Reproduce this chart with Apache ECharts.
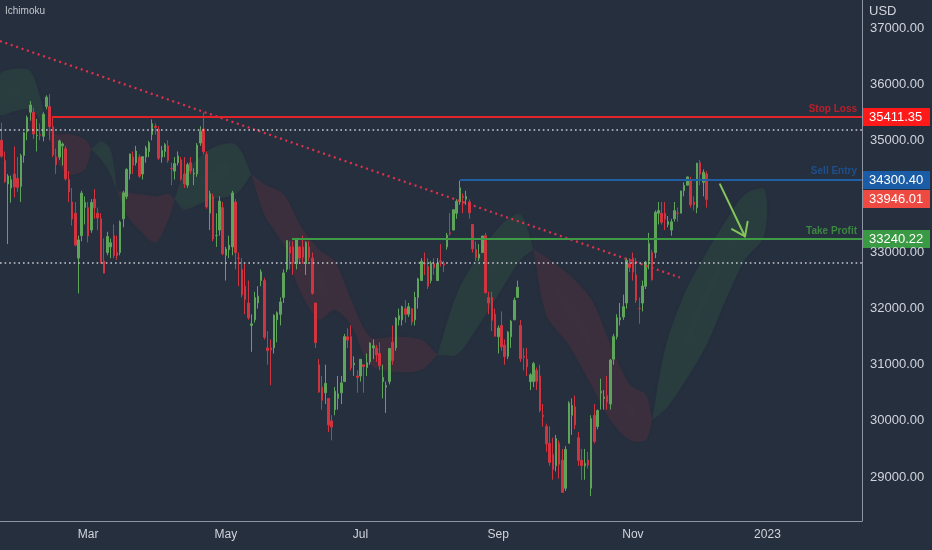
<!DOCTYPE html>
<html>
<head>
<meta charset="utf-8">
<script src="https://cdn.jsdelivr.net/npm/echarts@6/dist/echarts.min.js"></script>
<style>
html,body{margin:0;padding:0;background:#262f3e;}
#c{width:932px;height:550px;}
</style>
</head>
<body>
<div id="c"></div>
<script>
// ---- categories (trading days) ----
const startDate = '2022-01-20';
const totalSlots = 269;
const holidays = ['2022-02-21','2022-04-15','2022-05-30','2022-06-20','2022-07-04','2022-09-05','2022-11-24','2022-12-26','2023-01-02','2023-01-16','2023-02-20'];
const tickDates = ['2022-03-01','2022-05-02','2022-07-01','2022-09-01','2022-11-01','2023-01-03'];
const tickLabels = ['Mar','May','Jul','Sep','Nov','2023'];
const priceTicks = [29000,30000,31000,32000,33000,35000,36000,37000];

// ---- candles [open, close, low, high] ----
const candlesJan = [
[35000,34715,34690,35310],[34640,34265,34240,34800],[34220,34364,33150,34400],[34150,34297,33890,34370],
[34400,34168,33980,34890],[34320,34160,34080,34700],[34180,34725,33900,34760],[34730,35132,34600,35150]];
const candlesFeb = [
[35150,35405,35000,35440],[35500,35629,35350,35700],[35500,35111,35020,35580],[35080,35089,34800,35380],
[35100,35091,35000,35300],[35070,35463,34980,35500],[35600,35768,35550,35800],[35600,35241,35000,35824],
[35240,34738,34700,35400],[34700,34566,34400,34850],[34700,34989,34650,35010],[34900,34934,34550,34960],
[34850,34312,34280,34900],[34300,34079,33900,34450],[33900,33596,33480,34150],[33700,33132,33110,33900],
[32900,33224,32272,33300],[33300,34059,33200,34100],[33800,33893,33500,34000]];
const candlesMar = [
[33800,33295,33180,33900],[33400,33891,33350,33950],[33950,33795,33600,34130],[33700,33615,33400,33800],
[33600,32818,32800,33700],[32850,32632,32630,33250],[33000,33286,32950,33370],[33100,33174,32900,33250],
[33300,32944,32900,33500],[33000,32945,32870,33300],[33000,33545,32950,33570],[33600,34064,33450,34100],
[34000,34481,33950,34500],[34400,34755,34300,34760],[34700,34553,34400,34800],[34600,34808,34550,34900],
[34700,34359,34330,34750],[34400,34708,34300,34720],[34700,34862,34600,34900],[34800,34955,34700,34990],
[35100,35294,35000,35372],[35250,35229,35100,35300],[35200,34678,34650,35250]];
const candlesApr = [
[34700,34818,34600,34900],[34800,34922,34700,34950],[34900,34641,34600,35000],[34500,34497,34200,34600],
[34450,34584,34300,34700],[34600,34721,34550,34800],[34650,34308,34280,34700],[34400,34220,34150,34700],
[34200,34565,34150,34600],[34600,34451,34400,34700],[34400,34412,34200,34500],[34400,34912,34350,34950],
[34950,35160,34900,35250],[35200,34793,34750,35492],[34750,33811,33780,34800],[33700,34049,33400,34100],
[34000,33240,33200,34050],[33300,33301,33100,33700],[33400,33916,33300,34000],[33800,32977,32950,33900]];
const candlesMay = [
[32950,33062,32500,33100],[33050,33129,32900,33300],[33100,34061,32950,34100],[33900,32998,32700,33950],
[32900,32899,32400,33000],[32700,32246,32200,32900],[32400,32161,31900,32800],[32100,31834,31800,32500],
[31700,31730,31230,31900],[31800,32197,31750,32300],[32100,32223,32000,32400],[32500,32655,32400,32700],
[32500,31490,31450,32550],[31300,31253,31000,31600],[31300,31262,30635,31450],[31300,31880,31200,31900],
[31800,31928,31400,31950],[31900,32120,31700,32200],[32200,32637,32100,32700],[32700,33213,32650,33220],
[33100,32990,32700,33200]];
const candlesJun = [
[33100,32813,32600,33200],[32800,33248,32700,33260],[33100,32900,32800,33100],[33100,32916,32800,33300],
[32800,33180,32600,33200],[33100,32910,32850,33200],[32900,32273,32250,33000],[32100,31393,31300,32100],
[31000,30517,30500,31100],[30600,30365,30200,30800],[30500,30669,30300,31000],[30400,29927,29800,30400],
[30000,29889,29653,30100],[30200,30530,30100,30600],[30400,30484,30200,30800],[30500,30677,30300,30800],
[30700,31501,30700,31550],[31500,31439,31300,31650],[31500,30947,30900,31700],[31000,31029,30800,31150],
[30800,30775,30500,30900]];
const candlesJul = [
[30800,31097,30700,31100],[31000,30968,30500,31000],[30950,31037,30800,31200],[31050,31385,31000,31400],
[31300,31338,31100,31450],[31300,31174,31050,31350],[31200,30982,30900,31400],[30700,30773,30400,31000],
[30600,30630,30143,30700],[30700,31289,30650,31300],[31400,31072,31000,31700],[31300,31827,31250,31850],
[31800,31875,31700,32000],[31800,32036,31700,32050],[32000,31899,31750,32150],[31900,32034,31850,32100],
[32000,31762,31700,32000],[31800,32198,31700,32300],[32200,32530,32000,32550],[32500,32845,32500,32900]];
const candlesAug = [
[32800,32798,32600,33000],[32750,32397,32350,32900],[32500,32813,32450,32850],[32800,32727,32600,32900],
[32500,32803,32500,32900],[32850,32833,32750,33150],[32800,32775,32650,32850],[33100,33310,33050,33350],
[33350,33337,33300,33700],[33400,33761,33400,33770],[33700,33913,33600,33950],[33900,34152,33850,34281],
[34000,33981,33700,34050],[33950,33999,33850,34100],[33900,33707,33600,33950],[33500,33064,33000,33500],
[33050,32910,32850,33200],[32900,32970,32850,33150],[33000,33292,33000,33300],[33300,32283,32270,33350],
[32200,32099,31900,32300],[32200,31791,31600,32300],[31900,31510,31500,32000]];
const candlesSep = [
[31500,31656,31200,31700],[31700,31318,31250,31950],[31350,31145,31000,31450],[31150,31581,31100,31600],
[31500,31775,31300,31800],[31800,32152,31800,32200],[32200,32381,32200,32500],[31700,31105,31050,31800],
[31150,31135,30900,31300],[31100,30962,30800,31300],[30700,30822,30550,30850],[30700,31020,30600,31050],
[30900,30706,30550,30950],[30800,30184,30150,31000],[30100,30077,29900,30300],[29900,29590,29450,29950],
[29600,29260,29200,29900],[29400,29135,28950,29700],[29200,29684,29100,29750],[29600,29226,28970,29650],
[29300,28726,28715,29500]];
const candlesOct = [
[28800,29491,28750,29550],[29600,30317,29600,30350],[30100,30274,29750,30400],[30250,29927,29850,30450],
[29700,29297,29200,29800],[29300,29203,28950,29500],[29200,29240,28950,29500],[29300,29211,29150,29450],
[28800,30039,28661,30100],[30100,29635,29600,30300],[29900,30186,29850,30200],[30500,30524,30200,30750],
[30400,30424,30200,30550],[30450,30334,30200,30800],[30300,31083,30200,31100],[31100,31500,31000,31550],
[31500,31837,31450,31900],[31800,31839,31700,32100],[31850,32034,31800,32250],[32100,32861,32000,32900],
[32800,32733,32650,32900]];
const candlesNov = [
[32900,32653,32500,33000],[32600,32148,32100,32900],[32000,31999,31730,32200],[32100,32403,31950,32500],
[32400,32827,32350,32850],[32850,33160,32700,33350],[33000,32514,32500,33050],[33000,33716,32900,33750],
[33700,33748,33500,33900],[33700,33537,33500,33900],[33700,33593,33400,33900],[33500,33554,33450,33650],
[33400,33546,33300,33600],[33600,33746,33550,33900],[33700,33700,33550,33800],[33700,34098,33700,34100],
[34100,34195,34000,34250],[34200,34347,34200,34350],[34300,33850,33800,34350],[33900,33853,33750,34000],
[33800,34590,33700,34600]];
const candlesDec = [
[34600,34395,34200,34650],[34250,34430,34000,34480],[34400,33946,33800,34450]];

// ---- Ichimoku cloud: bar index, upper edge, lower edge, colour of following stretch ----
const cloudIdx = [-0.5,4,9,13,14,17,21,26,28,31,34,36,39,43,48,52,54,57,65,73,78,82,88,93,99,104,109,115,123,131,136,142,148,156,162,166,170,177,184,190,196,201,203,207,213,220,226,232,238];
const cloudTop = [36179,36268,36232,35554,35250,35107,35107,35018,34839,34982,34839,34100,34071,34036,34000,34036,33946,34393,34839,34929,34393,34214,34036,33500,33054,32839,32161,31500,31500,31446,31179,32250,32875,33500,33679,33054,32911,32607,32161,31357,30643,30464,30018,31268,32250,33000,33560,34036,34125];
const cloudBot = [35464,35518,35554,35286,35250,34661,34393,34482,34839,34661,34393,34100,33679,33411,33179,33589,33946,33768,33946,34036,34393,33679,33143,32339,31804,31982,31714,31000,30875,30911,31179,31179,31625,32339,32875,33054,31893,31357,30643,30018,29661,29661,30018,30196,30680,31357,32161,32875,33300];
const cloudSide = ['g','g','g','g','r','r','r','r','g','g','g','r','r','r','r','r','g','g','g','g','r','r','r','r','r','r','r','r','r','r','g','g','g','g','g','r','r','r','r','r','r','r','g','g','g','g','g','g','g'];

// ---- drawn levels and lines ----
const stopLoss = 35411.35, stopLossFrom = 15.7;
const sellEntry = 34300.40, sellEntryFrom = 143.1;
const takeProfit = 33240.22, takeProfitFrom = 90.6;
const lastPrice = 33946.01;
const rangeHigh = 35196, rangeLow = 32821;
const trendStart = [-0.5, 36768], trendEnd = [211.7, 32554];
const arrowStart = [224.2, 34214], arrowEnd = [232.0, 33286];

// ---- build ----
const holidaySet = new Set(holidays);
const dates = [];
let t = Date.parse(startDate + 'T00:00:00Z');
while (dates.length < totalSlots) {
  const dt = new Date(t);
  const wd = dt.getUTCDay();
  const s = dt.toISOString().slice(0, 10);
  if (wd !== 0 && wd !== 6 && !holidaySet.has(s)) dates.push(s);
  t += 86400000;
}
const candles = [].concat(candlesJan, candlesFeb, candlesMar, candlesApr, candlesMay, candlesJun,
  candlesJul, candlesAug, candlesSep, candlesOct, candlesNov, candlesDec);
const tickMap = {};
tickDates.forEach((d, i) => tickMap[d] = tickLabels[i]);

// cloud runs
const runs = [];
let cur = null;
for (let i = 0; i < cloudIdx.length; i++) {
  if (!cur || cloudSide[i] !== cur.side) {
    if (cur) cur.pts.push(i);
    cur = { side: cloudSide[i], pts: [] };
    runs.push(cur);
  }
  cur.pts.push(i);
}

const xMax = totalSlots - 0.5;
const AX = '#d1d4dc';
const FONT = '"Liberation Sans", Arial, sans-serif';

const chart = echarts.init(document.getElementById('c'), null, { renderer: 'canvas' });

function hLine(value, from, color, text, textColor) {
  return [
    { coord: [from, value] , lineStyle: { color: color, width: 2, type: 'solid' },
      label: { show: true, formatter: text, position: 'insideEndTop', color: textColor,
               fontSize: 10, fontWeight: 'bold', fontFamily: FONT, distance: [5, 3] } },
    { coord: [xMax, value] }
  ];
}

const baseGraphic = [
  { id: 'ichi', type: 'text', left: 5, top: 6, style: { text: 'Ichimoku', fill: '#c3c6ce', fontSize: 10, fontFamily: FONT } },
  { id: 'usd', type: 'text', left: 869, top: 5, style: { text: 'USD', fill: AX, fontSize: 13, fontFamily: FONT } }
];

chart.setOption({
  animation: false,
  backgroundColor: '#262f3e',
  grid: { left: 0, right: 70, top: 0, bottom: 29, containLabel: false },
  xAxis: [
    { type: 'category', data: dates, boundaryGap: true,
      axisLine: { show: true, onZero: false, lineStyle: { color: '#8e94a3', width: 1 } },
      axisTick: { show: false }, splitLine: { show: false },
      axisLabel: { color: AX, fontSize: 12, fontFamily: FONT, margin: 8,
        interval: (i, v) => tickMap[v] !== undefined,
        formatter: v => tickMap[v] || '' } },
    { type: 'value', min: -0.5, max: xMax, show: false, position: 'bottom' }
  ],
  yAxis: [{ type: 'value', position: 'right', min: 28216, max: 37499, scale: true,
    axisLine: { show: true, onZero: false, lineStyle: { color: '#8e94a3', width: 1 } },
    axisTick: { show: false }, splitLine: { show: false },
    axisLabel: { color: AX, fontSize: 13, fontFamily: FONT, margin: 8,
      customValues: priceTicks, formatter: v => v.toFixed(2) } }],
  graphic: baseGraphic,
  series: [
    { type: 'custom', name: 'cloud', xAxisIndex: 1, yAxisIndex: 0, z: 1, silent: true,
      data: runs.map(r => [cloudIdx[r.pts[0]], cloudTop[r.pts[0]]]),
      renderItem: function (params, api) {
        const r = runs[params.dataIndex];
        const pts = [];
        r.pts.forEach(i => pts.push(api.coord([cloudIdx[i], cloudTop[i]])));
        r.pts.slice().reverse().forEach(i => pts.push(api.coord([cloudIdx[i], cloudBot[i]])));
        const fill = r.side === 'g' ? 'rgba(76,175,80,0.10)' : 'rgba(242,54,69,0.10)';
        return { type: 'polygon', shape: { points: pts, smooth: 0.3 },
                 style: { fill: fill, shadowBlur: 14, shadowColor: fill } };
      } },
    { type: 'candlestick', name: 'price', xAxisIndex: 0, yAxisIndex: 0, z: 2, barWidth: 2,
      data: candles,
      itemStyle: { color: '#5ea45a', color0: '#d1333f', borderColor: '#5ea45a', borderColor0: '#d1333f', borderWidth: 1 } },
    { type: 'line', name: 'trend', xAxisIndex: 1, yAxisIndex: 0, z: 3, symbol: 'none',
      data: [trendStart, trendEnd],
      lineStyle: { color: '#e2314b', width: 2.2, type: [2, 3.7] },
      markLine: { silent: true, symbol: ['none', 'none'], animation: false,
        data: [
          [ { coord: [-0.5, rangeHigh], lineStyle: { color: '#c9ccd4', width: 1.5, type: [1.6, 3] }, label: { show: false } }, { coord: [xMax, rangeHigh] } ],
          [ { coord: [-0.5, rangeLow], lineStyle: { color: '#c9ccd4', width: 1.5, type: [1.6, 3] }, label: { show: false } }, { coord: [xMax, rangeLow] } ],
          hLine(stopLoss, stopLossFrom, '#e3242b', 'Stop Loss', '#b8202a'),
          hLine(sellEntry, sellEntryFrom, '#1f5fa6', 'Sell Entry', '#1d4f8c'),
          hLine(takeProfit, takeProfitFrom, '#3f9a46', 'Take Profit', '#3c8742')
        ] } },
    { type: 'custom', name: 'arrow', xAxisIndex: 1, yAxisIndex: 0, z: 4, silent: true,
      data: [[arrowStart[0], arrowStart[1], arrowEnd[0], arrowEnd[1]]],
      renderItem: function (params, api) {
        const p0 = api.coord([api.value(0), api.value(1)]);
        const p1 = api.coord([api.value(2), api.value(3)]);
        const ang = Math.atan2(p1[1] - p0[1], p1[0] - p0[0]);
        const L = 15, A = 0.62;
        const h1 = [p1[0] - L * Math.cos(ang - A), p1[1] - L * Math.sin(ang - A)];
        const h2 = [p1[0] - L * Math.cos(ang + A), p1[1] - L * Math.sin(ang + A)];
        const st = { stroke: '#84c65a', lineWidth: 2, fill: null, lineCap: 'round', lineJoin: 'round' };
        return { type: 'group', children: [
          { type: 'polyline', shape: { points: [p0, p1] }, style: st },
          { type: 'polyline', shape: { points: [h1, p1, h2] }, style: st }
        ] };
      } }
  ]
});

// price boxes on the right axis, placed through the axis scale
const priceBoxes = [[stopLoss, '#ff1a1a'], [sellEntry, '#1a5ca6'], [lastPrice, '#ef4a41'], [takeProfit, '#3a9a43']];
const gridRight = chart.convertToPixel({ xAxisIndex: 1 }, xMax);
const boxGraphic = priceBoxes.map(function (b, i) {
  const y = chart.convertToPixel({ yAxisIndex: 0 }, b[0]);
  return { id: 'box' + i, type: 'group', x: Math.round(gridRight), y: Math.round(y) - 9, z: 100, children: [
    { type: 'rect', shape: { x: 0, y: 0, width: 68, height: 18 }, style: { fill: b[1] } },
    { type: 'text', x: 7, y: 9.5, style: { text: b[0].toFixed(2), fill: '#ffffff', fontSize: 13,
      fontFamily: FONT, verticalAlign: 'middle', align: 'left' } }
  ] };
});
chart.setOption({ graphic: baseGraphic.concat(boxGraphic) });
</script>
</body>
</html>
